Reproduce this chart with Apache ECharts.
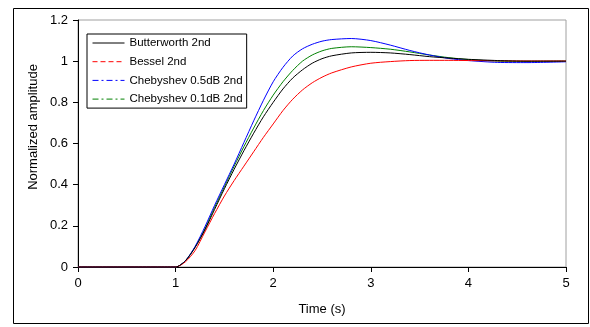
<!DOCTYPE html>
<html>
<head>
<meta charset="utf-8">
<script src="https://cdn.jsdelivr.net/npm/echarts@6/dist/echarts.min.js"></script>
<style>
html,body{margin:0;padding:0;background:#fff;}
#c{width:590px;height:327px;}
</style>
</head>
<body>
<div id="c"></div>
<script>
const seriesNames = ["Butterworth 2nd", "Bessel 2nd", "Chebyshev 0.5dB 2nd", "Chebyshev 0.1dB 2nd"];
const times = [0, 1, 1.1, 1.2, 1.3, 1.4, 1.5, 1.6, 1.7, 1.8, 1.9, 2.0, 2.1, 2.2, 2.3, 2.4, 2.5, 2.6, 2.8, 3.0, 3.2, 3.4, 3.6, 3.8, 4.0, 4.3, 4.6, 5.0];
const butterworth = [0, 0, 0.03, 0.095, 0.18, 0.28, 0.38, 0.475, 0.565, 0.65, 0.73, 0.80, 0.865, 0.918, 0.958, 0.99, 1.012, 1.026, 1.04, 1.043, 1.04, 1.032, 1.022, 1.015, 1.009, 1.003, 1.0, 1.0];
const bessel = [0, 0, 0.025, 0.08, 0.17, 0.26, 0.345, 0.42, 0.49, 0.56, 0.63, 0.695, 0.76, 0.815, 0.86, 0.895, 0.922, 0.943, 0.972, 0.99, 0.998, 1.003, 1.004, 1.004, 1.003, 1.002, 1.001, 1.001];
const cheb05 = [0, 0, 0.03, 0.1, 0.195, 0.3, 0.40, 0.50, 0.605, 0.71, 0.81, 0.90, 0.97, 1.025, 1.06, 1.082, 1.097, 1.105, 1.11, 1.1, 1.078, 1.052, 1.03, 1.013, 1.003, 0.994, 0.993, 0.997];
const cheb01 = [0, 0, 0.03, 0.097, 0.185, 0.29, 0.39, 0.49, 0.585, 0.675, 0.76, 0.835, 0.9, 0.955, 1.0, 1.03, 1.05, 1.062, 1.07, 1.066, 1.058, 1.045, 1.03, 1.017, 1.008, 1.0, 0.999, 1.0];
const xTicks = [0, 1, 2, 3, 4, 5];
const yTicks = [0, 0.2, 0.4, 0.6, 0.8, 1, 1.2];

const values = [butterworth, bessel, cheb05, cheb01];
const colors = ["#000000", "#ff0000", "#0000ff", "#008000"];
const legendDash = ["solid", [5, 3], [6, 3, 2, 3], [6, 3, 2, 3]];

const chart = echarts.init(document.getElementById('c'), null, {renderer: 'canvas'});
const font = "Liberation Sans, Arial, sans-serif";

chart.setOption({
  animation: false,
  backgroundColor: '#fff',
  textStyle: {fontFamily: font},
  grid: {left: 78, top: 20, right: 24, bottom: 60, show: true, borderColor: '#a0a0a0', borderWidth: 1, backgroundColor: '#fff'},
  legend: {
    show: true,
    orient: 'vertical',
    left: 87, top: 34,
    backgroundColor: '#fff',
    borderColor: '#000', borderWidth: 1, borderRadius: 0,
    padding: [3, 4, 3, 5],
    itemWidth: 32, itemHeight: 12, itemGap: 6.7,
    itemStyle: {opacity: 0, borderWidth: 0},
    textStyle: {fontSize: 11.5, color: '#000', fontFamily: font},
    data: seriesNames.map((n, i) => ({name: n, itemStyle: {opacity: 0, borderWidth: 0}, lineStyle: {type: legendDash[i], width: 1, color: colors[i], opacity: 1}})),
    z: 10
  },
  xAxis: {
    type: 'value', min: 0, max: 5, interval: 1,
    name: 'Time (s)', nameLocation: 'middle', nameGap: 36,
    nameTextStyle: {fontSize: 13, color: '#000', fontFamily: font},
    axisLine: {show: true, lineStyle: {color: '#000', width: 1}},
    axisTick: {show: true, length: 5, lineStyle: {color: '#000'}},
    axisLabel: {fontSize: 13, color: '#000', margin: 10, fontFamily: font},
    splitLine: {show: false}
  },
  yAxis: {
    type: 'value', min: 0, max: 1.2, interval: 0.2,
    axisLine: {show: true, lineStyle: {color: '#000', width: 1}},
    axisTick: {show: true, length: 5, lineStyle: {color: '#000'}},
    axisLabel: {fontSize: 13, color: '#000', margin: 10, fontFamily: font},
    splitLine: {show: false}
  },
  graphic: [
    {type: 'rect', shape: {x: 13.5, y: 8.5, width: 575, height: 315}, style: {fill: 'none', stroke: '#000', lineWidth: 1}, silent: true, z: -10},
    {type: 'text', x: 33, y: 127, rotation: Math.PI / 2, style: {text: 'Normalized amplitude', fontSize: 13, fontFamily: font, fill: '#000', align: 'center', verticalAlign: 'middle'}}
  ],
  series: seriesNames.map((n, i) => ({
    name: n, type: 'line', symbol: 'none', smooth: 0.25,
    lineStyle: {color: colors[i], width: 1},
    itemStyle: {color: colors[i]},
    z: 4 - i,
    data: times.map((t, k) => [t, values[i][k]])
  }))
});
</script>
</body>
</html>
